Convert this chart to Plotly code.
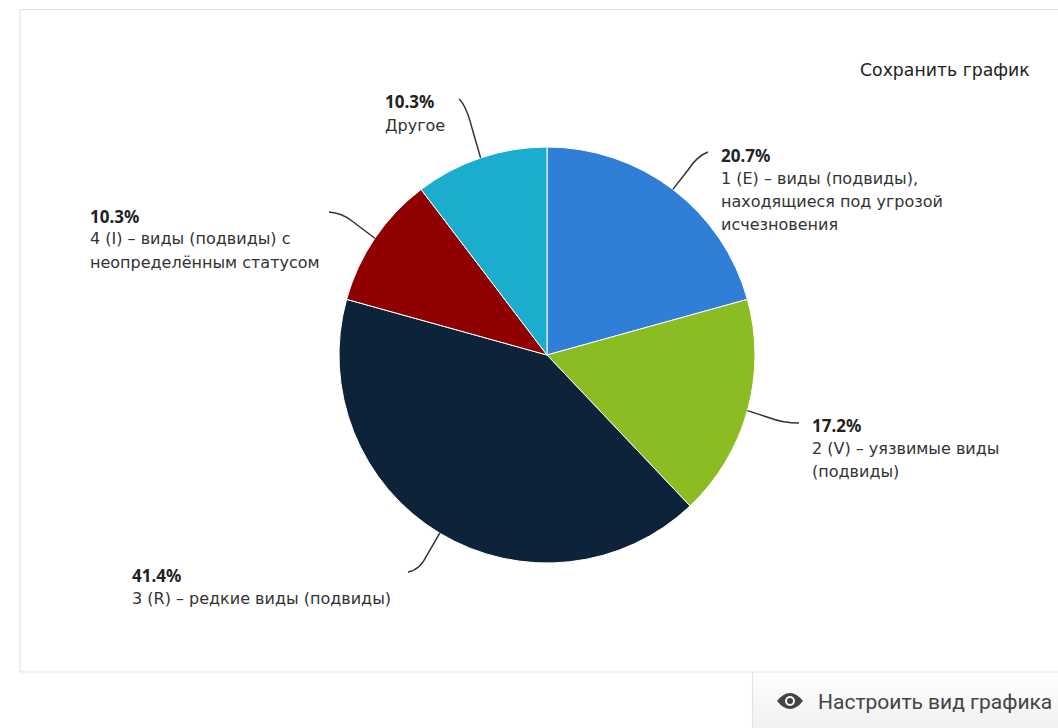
import math
import plotly.graph_objects as go

W, H = 1058, 728
categories = [
    "1 (E) – виды (подвиды), находящиеся под угрозой исчезновения",
    "2 (V) – уязвимые виды (подвиды)",
    "3 (R) – редкие виды (подвиды)",
    "4 (I) – виды (подвиды) с неопределённым статусом",
    "Другое",
]
values = [6, 5, 12, 3, 3]
colors = ["#2f7ed8", "#8bbc21", "#0d233a", "#910000", "#1aadce"]
label_lines = [
    ["1 (E) – виды (подвиды),", "находящиеся под угрозой", "исчезновения"],
    ["2 (V) – уязвимые виды", "(подвиды)"],
    ["3 (R) – редкие виды (подвиды)"],
    ["4 (I) – виды (подвиды) с", "неопределённым статусом"],
    ["Другое"],
]
label_pos = [(719, 155), (810, 425), (130, 575), (88, 216), (383, 102)]
connector_knee = [(688, 170), (770, 418), (427, 555), (352, 221), (472, 128)]
connector_ctrl = [(697, 156), (783, 423), (420, 570), (342, 213), (466, 105)]
connector_end = [(708, 152), (799, 423), (408, 572), (329, 212), (459, 99)]

CX, CY, R = 547, 355, 208
FONT = "DejaVu Sans"


def px(x):
    return x / W


def py(y):
    return 1 - y / H


fig = go.Figure(go.Pie(
    labels=categories, values=values, sort=False, direction="clockwise", rotation=0,
    marker=dict(colors=colors, line=dict(color="#ffffff", width=1)),
    textinfo="none", hoverinfo="label+percent", showlegend=False,
    domain=dict(x=[px(CX - R), px(CX + R)], y=[py(CY + R), py(CY - R)]),
))

annotations = []
shapes = []
total = sum(values)
cum = 0
for v, lines, (lx, ly), (kx, ky), (mx, my), (ex, ey) in zip(
        values, label_lines, label_pos, connector_knee, connector_ctrl, connector_end):
    mid = (cum + v / 2) / total * 2 * math.pi
    cum += v
    sx, sy = CX + R * math.sin(mid), CY - R * math.cos(mid)
    shapes.append(dict(type="path", xref="paper", yref="paper",
                       path=f"M {px(sx)} {py(sy)} L {px(kx)} {py(ky)} Q {px(mx)} {py(my)} {px(ex)} {py(ey)}",
                       line=dict(color="#333333", width=1.5), layer="above"))
    annotations.append(dict(x=px(lx), y=py(ly), xref="paper", yref="paper", showarrow=False,
                            xanchor="left", yanchor="middle", align="left",
                            text=f"<b>{v / total * 100:.1f}%</b>",
                            font=dict(family="Noto Sans", size=17, color="#222222")))
    for i, line in enumerate(lines):
        annotations.append(dict(x=px(lx), y=py(ly + 23 * (i + 1)), xref="paper", yref="paper", showarrow=False,
                                xanchor="left", yanchor="middle", align="left", text=line,
                                font=dict(family=FONT, size=16, color="#333333")))

annotations.append(dict(x=px(858), y=py(70), xref="paper", yref="paper", showarrow=False,
                        xanchor="left", yanchor="middle", text="Сохранить график",
                        font=dict(family=FONT, size=17.3, color="#222222")))
annotations.append(dict(x=px(816), y=py(702), xref="paper", yref="paper", showarrow=False,
                        xanchor="left", yanchor="middle", text="Настроить вид графика",
                        font=dict(family="Roboto", size=21, color="#444444")))

frame = "#dfe3e6"
button_bands = ["#fdfdfd", "#fbfbfb", "#f9f9f9", "#f7f7f7", "#f5f5f5", "#f3f3f3", "#f1f1f1"]
band_h = (H - 673) / len(button_bands)
for i, band in enumerate(button_bands):
    shapes.append(dict(type="rect", xref="paper", yref="paper", x0=px(753), x1=1,
                       y0=py(673 + band_h * (i + 1)), y1=py(673 + band_h * i),
                       fillcolor=band, line=dict(width=0), layer="below"))
shapes += [
    dict(type="line", xref="paper", yref="paper", x0=px(20), x1=1, y0=py(9.5), y1=py(9.5), line=dict(color=frame, width=1.2)),
    dict(type="line", xref="paper", yref="paper", x0=px(20), x1=px(20), y0=py(9.5), y1=py(672), line=dict(color=frame, width=1.2)),
    dict(type="line", xref="paper", yref="paper", x0=px(20), x1=1, y0=py(672), y1=py(672), line=dict(color=frame, width=1.2)),
    dict(type="line", xref="paper", yref="paper", x0=px(752.5), x1=px(752.5), y0=0, y1=py(672), line=dict(color=frame, width=1.2)),
    # eye icon
    dict(type="path", xref="paper", yref="paper",
         path=f"M {px(777)} {py(701)} Q {px(790)} {py(685)} {px(803)} {py(701)} Q {px(790)} {py(717)} {px(777)} {py(701)} Z",
         fillcolor="#444444", line=dict(width=0)),
    dict(type="circle", xref="paper", yref="paper", x0=px(785), x1=px(795), y0=py(706), y1=py(696),
         fillcolor="#f8f8f8", line=dict(width=0)),
    dict(type="circle", xref="paper", yref="paper", x0=px(787), x1=px(793), y0=py(704), y1=py(698),
         fillcolor="#444444", line=dict(width=0)),
]

fig.update_layout(width=W, height=H, margin=dict(l=0, r=0, t=0, b=0), autosize=False,
                  paper_bgcolor="#ffffff", annotations=annotations, shapes=shapes)
fig.write_html("out.html", config={"displayModeBar": False},
               post_script="document.body.style.margin='0';document.body.style.overflow='hidden';")
